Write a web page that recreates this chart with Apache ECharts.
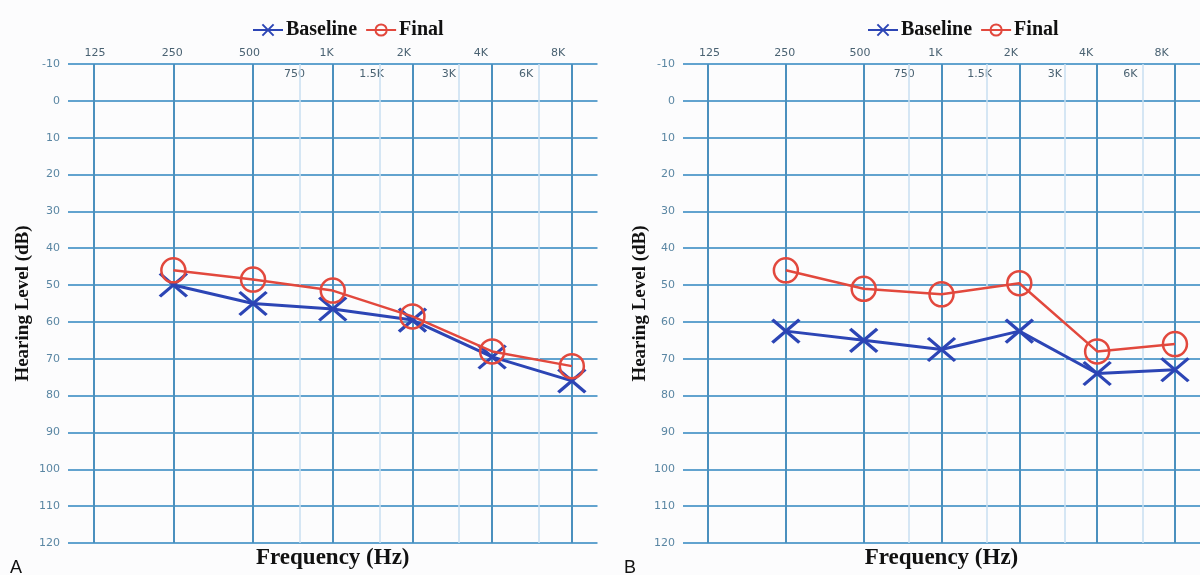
<!DOCTYPE html>
<html><head><meta charset="utf-8">
<script src="https://cdn.jsdelivr.net/npm/echarts@6/dist/echarts.min.js"></script>
<style>html,body{margin:0;padding:0;background:#fcfcfd}#c{width:1200px;height:575px}</style>
</head><body><div id="c"></div>
<script>
// ---- data ----
const majorFreqs = [125, 250, 500, 1000, 2000, 4000, 8000];
const majorLabels = ['125', '250', '500', '1K', '2K', '4K', '8K'];
const minorFreqs = [750, 1500, 3000, 6000];
const minorLabels = ['750', '1.5K', '3K', '6K'];
const testFreqs = [250, 500, 1000, 2000, 4000, 8000];
const baselineA = [50, 55, 56.5, 59.5, 69.5, 76];
const finalA = [46, 48.5, 51.5, 58.5, 68, 72];
const baselineB = [62.5, 65, 67.5, 62.5, 74, 73];
const finalB = [46, 51, 52.5, 49.5, 68, 66];

// ---- style ----
const BLUE = '#2c45b5', RED = '#e2483d';
const HLINE = '#62a3cf', VMAJOR = '#4b90be', VMINOR = '#c9dff0';
const oct = f => Math.log2(f / 125);
const labelMin = -0.35, labelMax = 6.51;

const option = {
  animation: false,
  backgroundColor: '#fcfcfd',
  title: [], legend: [], grid: [], xAxis: [], yAxis: [], series: []
};

function panel(i, left, yGap, base, fin, legendLeft, letter, letterLeft) {
  option.grid.push({ left: left, top: 64, width: 529.5, height: 481 });
  option.title.push({ text: letter, left: letterLeft, top: 559, padding: 0,
    textStyle: { fontFamily: 'Liberation Sans', fontSize: 18, fontWeight: 'normal', color: '#111' } });
  option.legend.push({ left: legendLeft, top: 15, itemWidth: 30, itemHeight: 14, itemGap: 8,
    data: ['Baseline', 'Final'],
    textStyle: { fontFamily: 'Liberation Serif', fontWeight: 'bold', fontSize: 20, color: '#111', padding: [0, 0, 0, -2] } });
  const xi = option.xAxis.length;
  option.xAxis.push({
    type: 'log', logBase: 2, min: 100, max: 10000, gridIndex: i, position: 'bottom',
    axisLine: { show: false }, axisTick: { show: false }, axisLabel: { show: false }, splitLine: { show: false },
    name: 'Frequency (Hz)', nameLocation: 'middle', nameGap: 4,
    nameTextStyle: { fontFamily: 'Liberation Serif', fontWeight: 'bold', fontSize: 23, color: '#111' }
  });
  option.xAxis.push({
    type: 'value', min: labelMin, max: labelMax, gridIndex: i, position: 'top',
    axisLine: { show: false }, axisTick: { show: false }, splitLine: { show: false },
    axisLabel: { customValues: majorFreqs.map(oct), margin: 5, fontFamily: 'DejaVu Sans', fontSize: 11, color: '#4a6272',
      formatter: v => majorLabels[majorFreqs.findIndex(f => Math.abs(oct(f) - v) < 1e-6)] }
  });
  option.xAxis.push({
    type: 'value', min: labelMin, max: labelMax, gridIndex: i, position: 'top',
    axisLine: { show: false }, axisTick: { show: false }, splitLine: { show: false },
    axisLabel: { inside: true, customValues: minorFreqs.map(oct), margin: 5, fontFamily: 'DejaVu Sans', fontSize: 11, color: '#4a6272',
      formatter: v => minorLabels[minorFreqs.findIndex(f => Math.abs(oct(f) - v) < 1e-6)] }
  });
  const yi = option.yAxis.length;
  option.yAxis.push({
    type: 'value', inverse: true, min: -10, max: 120, interval: 10, gridIndex: i,
    axisLine: { show: false }, axisTick: { show: false },
    axisLabel: { margin: 8, fontFamily: 'DejaVu Sans', fontSize: 11, color: '#5a86a3' },
    splitLine: { lineStyle: { color: HLINE, width: 2 } },
    name: 'Hearing Level (dB)', nameLocation: 'middle', nameGap: yGap,
    nameTextStyle: { fontFamily: 'Liberation Serif', fontWeight: 'bold', fontSize: 19, color: '#111' }
  });
  const vlines = majorFreqs.map(f => [{ coord: [f, -10], lineStyle: { color: VMAJOR, width: 2, type: 'solid' } }, { coord: [f, 120] }])
    .concat(minorFreqs.map(f => [{ coord: [f, -10], lineStyle: { color: VMINOR, width: 1.5, type: 'solid' } }, { coord: [f, 120] }]));
  option.series.push({
    name: 'Baseline', type: 'line', xAxisIndex: xi, yAxisIndex: yi, z: 3,
    data: testFreqs.map((f, k) => [f, base[k]]),
    symbol: 'path://M0,0L26,22M26,0L0,22', symbolSize: [27, 23],
    itemStyle: { color: BLUE, borderColor: BLUE, borderWidth: 3.2 },
    lineStyle: { color: BLUE, width: 3 },
    markLine: { z: 1, silent: true, symbol: ['none', 'none'], label: { show: false },
      lineStyle: { type: 'solid' }, data: vlines }
  });
  option.series.push({
    name: 'Final', type: 'line', xAxisIndex: xi, yAxisIndex: yi, z: 4,
    data: testFreqs.map((f, k) => [f, fin[k]]),
    symbol: 'circle', symbolSize: 24,
    itemStyle: { color: 'rgba(0,0,0,0)', borderColor: RED, borderWidth: 2.5 },
    lineStyle: { color: RED, width: 2.5 }
  });
}

panel(0, 68, 35, baselineA, finalA, 247, 'A', 10);
panel(1, 683, 33, baselineB, finalB, 862, 'B', 624);

const chart = echarts.init(document.getElementById('c'), null, { renderer: 'canvas' });
chart.setOption(option);
</script></body></html>
